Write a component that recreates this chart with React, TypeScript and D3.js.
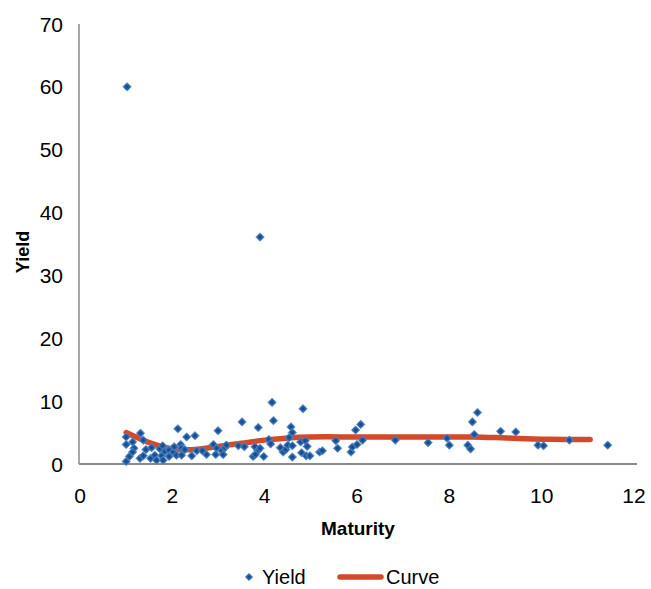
import React from "react";
import * as d3 from "d3";

const maturity = [
  1.02, 1.0, 1.0, 1.0, 1.07, 1.14, 1.17, 1.14, 1.31, 1.37, 1.43, 1.3, 1.37, 1.55, 1.53, 1.62, 1.66, 1.73, 1.79, 1.77,
  1.84, 1.8, 1.93, 1.93, 2.02, 2.04, 2.12, 2.09, 2.18, 2.2, 2.24, 2.2, 2.31, 2.49, 2.27, 2.42, 2.53, 2.65, 2.74, 2.89,
  2.96, 2.94, 3.07, 3.14, 3.17, 3.1, 2.99, 3.43, 3.51, 3.56, 3.79, 3.85, 3.9, 3.75, 3.8, 3.86, 3.9, 3.98, 4.16, 4.83,
  4.19, 4.57, 4.6, 4.53, 4.09, 4.13, 4.34, 4.4, 4.46, 4.5, 4.6, 4.6, 4.78, 4.88, 4.92, 4.8, 4.9, 4.98, 5.19, 5.25,
  5.54, 5.58, 5.87, 5.9, 6.0, 6.12, 5.97, 6.08, 6.83, 7.54, 7.95, 8.0, 8.4, 8.46, 8.54, 8.5, 8.61, 9.11, 9.44, 9.92,
  10.04, 10.6, 11.43,
];
const yieldValues = [
  60, 4.3, 3.1, 0.4, 1.2, 3.5, 2.5, 1.9, 4.9, 3.8, 2.3, 0.9, 1.3, 2.6, 0.9, 1.4, 0.6, 2.4, 2.9, 1.3,
  2.0, 0.6, 2.2, 1.2, 1.9, 2.75, 5.6, 1.4, 3.1, 2.5, 2.1, 1.4, 4.3, 4.5, 2.3, 1.3, 2.1, 2.1, 1.5, 3.1,
  2.5, 1.5, 2.1, 2.6, 3.0, 1.5, 5.3, 2.9, 6.7, 2.75, 2.75, 2.1, 2.5, 1.2, 1.5, 5.8, 36.1, 1.2, 9.8, 8.8,
  6.9, 5.9, 5.0, 4.2, 3.9, 3.2, 2.6, 1.9, 2.3, 3.0, 2.9, 1.1, 3.5, 3.7, 2.8, 1.8, 1.3, 1.3, 1.9, 2.1,
  3.7, 2.5, 1.9, 2.7, 3.1, 3.8, 5.4, 6.3, 3.8, 3.4, 4.1, 3.0, 3.0, 2.4, 4.7, 6.7, 8.2, 5.2, 5.1, 3.0,
  2.9, 3.8, 3.0,
];
const curveX = [1, 1.5, 2, 2.5, 3, 3.5, 4, 4.5, 5, 6, 7, 8, 8.5, 9, 9.5, 10, 10.5, 11.05];
const curveY = [5.0, 3.4, 2.4, 2.3, 2.8, 3.3, 3.8, 4.15, 4.3, 4.3, 4.3, 4.3, 4.3, 4.2, 4.05, 3.95, 3.9, 3.9];
const xTicks = [0, 2, 4, 6, 8, 10, 12];
const yTicks = [0, 10, 20, 30, 40, 50, 60, 70];
const seriesNames = ["Yield", "Curve"];

const W = 651;
const H = 589;
const FONT = "'Liberation Sans', Arial, sans-serif";

export default function App() {
  const x = d3.scaleLinear().domain([0, 12]).range([80, 634]);
  const y = d3.scaleLinear().domain([0, 70]).range([464, 24]);
  const line = d3
    .line<number>()
    .x((_, i) => x(curveX[i]))
    .y((d) => y(d))
    .curve(d3.curveCatmullRom.alpha(0.5));
  const diamond = (cx: number, cy: number, r: number) =>
    `M${cx},${cy - r}L${cx + r},${cy}L${cx},${cy + r}L${cx - r},${cy}Z`;
  const curveColor = "#D24A2A";
  const legY = 577;

  return (
    <svg
      width={W}
      height={H}
      style={{ position: "absolute", left: 0, top: 0, background: "#fff" }}
      fontFamily={FONT}
    >
      <defs>
        <radialGradient id="mk" cx="50%" cy="50%" r="50%">
          <stop offset="0%" stopColor="#143f7a" />
          <stop offset="55%" stopColor="#2a63a8" />
          <stop offset="100%" stopColor="#5a8fd0" />
        </radialGradient>
      </defs>
      {/* axes */}
      <line x1={x(0) - 1} x2={x(0) - 1} y1={y(70)} y2={y(0)} stroke="#8a8a8a" strokeWidth={1.5} />
      <line x1={x(0) - 1} x2={637} y1={y(0)} y2={y(0)} stroke="#8a8a8a" strokeWidth={2} />
      {yTicks.map((t) => (
        <text key={t} x={63} y={y(t)} textAnchor="end" dominantBaseline="central" fontSize={21} fill="#000">
          {t}
        </text>
      ))}
      {xTicks.map((t) => (
        <text key={t} x={x(t)} y={495} textAnchor="middle" dominantBaseline="central" fontSize={21} fill="#000">
          {t}
        </text>
      ))}
      <text x={358} y={528} textAnchor="middle" dominantBaseline="central" fontSize={19} fontWeight="bold">
        Maturity
      </text>
      <text
        transform={`translate(23,252) rotate(-90)`}
        textAnchor="middle"
        dominantBaseline="central"
        fontSize={18}
        fontWeight="bold"
      >
        Yield
      </text>
      {/* curve */}
      <path d={line(curveY) || ""} fill="none" stroke={curveColor} strokeWidth={5.5} strokeLinecap="round" />
      {/* points */}
      {maturity.map((m, i) => (
        <path key={i} d={diamond(x(m), y(yieldValues[i]), 4.3)} fill="url(#mk)" stroke="#4f86c9" strokeWidth={0.6} />
      ))}
      {/* legend */}
      <path d={diamond(249, legY, 3.8)} fill="url(#mk)" stroke="#4f86c9" strokeWidth={0.6} />
      <text x={262} y={legY} dominantBaseline="central" fontSize={20}>
        {seriesNames[0]}
      </text>
      <line x1={340} x2={381} y1={legY} y2={legY} stroke={curveColor} strokeWidth={5.5} strokeLinecap="round" />
      <text x={386} y={legY} dominantBaseline="central" fontSize={20}>
        {seriesNames[1]}
      </text>
    </svg>
  );
}
